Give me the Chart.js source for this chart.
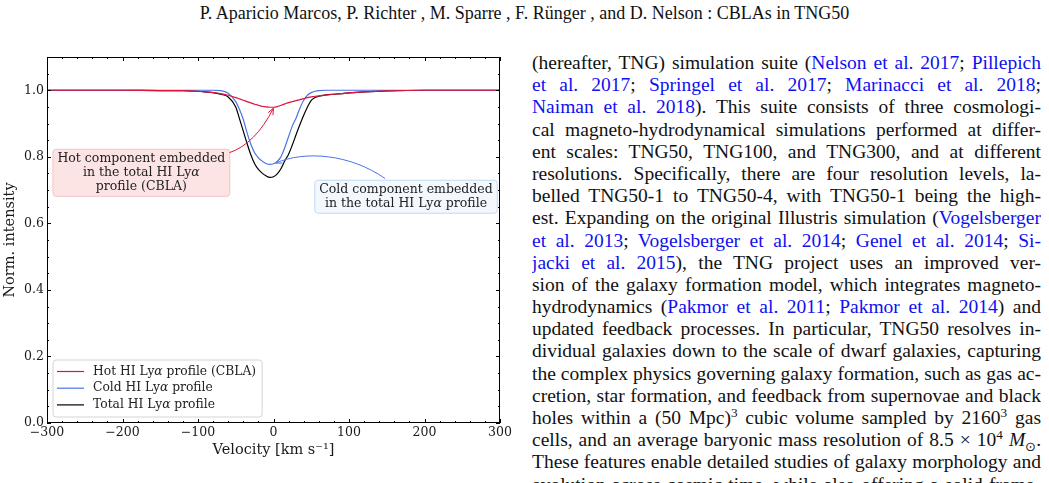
<!DOCTYPE html>
<html>
<head>
<meta charset="utf-8">
<script src="https://cdn.jsdelivr.net/npm/chart.js@4.4.0/dist/chart.umd.min.js"></script>
<style>
body{margin:0;width:1049px;height:483px;overflow:hidden;background:#fff;position:relative;font-family:"Liberation Serif","Times New Roman",serif;color:#111}
#hdr{position:absolute;left:0;top:3px;width:1049px;text-align:center;font-size:18px;line-height:20px}
#plot{position:absolute;left:0;top:40px;width:515px;height:426px}
#txt{position:absolute;left:532px;top:52px;width:509px;font-size:19.5px;word-spacing:-1.5px}
#txt div{height:22.2px;line-height:22.2px;overflow:hidden;text-align:justify;text-align-last:justify}
.c{color:#1010f0}
sup,sub{font-size:0.68em;line-height:0}
</style>
</head>
<body>
<div id="hdr">P. Aparicio Marcos, P. Richter , M. Sparre , F. Rünger , and D. Nelson : CBLAs in TNG50</div>
<div id="plot"><canvas id="profileChart"></canvas></div>
<div id="txt">
<div>(hereafter, TNG) simulation suite (<span class="c">Nelson et al. 2017</span>; <span class="c">Pillepich</span></div>
<div><span class="c">et al. 2017</span>; <span class="c">Springel et al. 2017</span>; <span class="c">Marinacci et al. 2018</span>;</div>
<div><span class="c">Naiman et al. 2018</span>). This suite consists of three cosmologi-</div>
<div>cal magneto-hydrodynamical simulations performed at differ-</div>
<div>ent scales: TNG50, TNG100, and TNG300, and at different</div>
<div>resolutions. Specifically, there are four resolution levels, la-</div>
<div>belled TNG50-1 to TNG50-4, with TNG50-1 being the high-</div>
<div>est. Expanding on the original Illustris simulation (<span class="c">Vogelsberger</span></div>
<div><span class="c">et al. 2013</span>; <span class="c">Vogelsberger et al. 2014</span>; <span class="c">Genel et al. 2014</span>; <span class="c">Si-</span></div>
<div><span class="c">jacki et al. 2015</span>), the TNG project uses an improved ver-</div>
<div>sion of the galaxy formation model, which integrates magneto-</div>
<div>hydrodynamics (<span class="c">Pakmor et al. 2011</span>; <span class="c">Pakmor et al. 2014</span>) and</div>
<div>updated feedback processes. In particular, TNG50 resolves in-</div>
<div>dividual galaxies down to the scale of dwarf galaxies, capturing</div>
<div>the complex physics governing galaxy formation, such as gas ac-</div>
<div>cretion, star formation, and feedback from supernovae and black</div>
<div>holes within a (50 Mpc)<sup>3</sup> cubic volume sampled by 2160<sup>3</sup> gas</div>
<div>cells, and an average baryonic mass resolution of 8.5 × 10<sup>4</sup> <i>M</i><sub>⊙</sub>.</div>
<div>These features enable detailed studies of galaxy morphology and</div>
<div>evolution across cosmic time, while also offering a solid frame-</div>
</div>
<script>
// velocidades (km/s) y perfiles
const velocity = [-300, -200, -150, -120, -100, -90, -80, -70, -60, -50, -45, -40, -35, -30, -25, -20, -15, -10, -5, 0,
                  5, 10, 15, 20, 25, 30, 35, 40, 45, 50, 55, 60, 70, 80, 90, 100, 120, 150, 200, 300];
const hotProfile = [1.000, 1.000, 0.999, 0.999, 0.997, 0.995, 0.993, 0.990, 0.985, 0.978, 0.974, 0.970, 0.966, 0.962, 0.958, 0.955, 0.952, 0.950, 0.949, 0.949,
                    0.951, 0.955, 0.959, 0.963, 0.966, 0.969, 0.972, 0.975, 0.978, 0.980, 0.982, 0.983, 0.986, 0.988, 0.990, 0.992, 0.995, 0.998, 1.000, 1.000];
const coldProfile = [1.000, 1.000, 1.000, 1.000, 1.000, 1.000, 1.000, 0.999, 0.991, 0.966, 0.942, 0.912, 0.872, 0.838, 0.812, 0.797, 0.787, 0.780, 0.777, 0.779,
                     0.786, 0.801, 0.828, 0.861, 0.893, 0.917, 0.946, 0.970, 0.985, 0.993, 0.997, 0.999, 1.000, 1.000, 1.000, 1.000, 1.000, 1.000, 1.000, 1.000];
const totalProfile = [1.000, 1.000, 0.999, 0.999, 0.997, 0.995, 0.993, 0.988, 0.980, 0.950, 0.914, 0.877, 0.840, 0.806, 0.779, 0.762, 0.751, 0.743, 0.738, 0.740,
                      0.749, 0.765, 0.788, 0.808, 0.836, 0.867, 0.897, 0.925, 0.950, 0.970, 0.978, 0.982, 0.986, 0.988, 0.990, 0.992, 0.995, 0.998, 1.000, 1.000];

const xTicks = [-300, -200, -100, 0, 100, 200, 300];
const yTicks = [0.0, 0.2, 0.4, 0.6, 0.8, 1.0];

const seriesLabels = [
    [['Hot HI Ly', false], ['α', true], [' profile (CBLA)', false]],
    [['Cold HI Ly', false], ['α', true], [' profile', false]],
    [['Total HI Ly', false], ['α', true], [' profile', false]]
];
const seriesColors = ['#dc143c', '#4a74e8', '#000000'];

// anotaciones (coordenadas de datos)
const hotNote = { lines: [[['Hot component embedded', false]], [['in the total HI Ly', false], ['α', true]], [['profile (CBLA)', false]]],
                  center: [-175, 0.752], fill: '#fce4e5', edge: '#f3c4c8' };
const coldNote = { lines: [[['Cold component embedded', false]], [['in the total HI Ly', false], ['α', true], [' profile', false]]],
                   center: [175.5, 0.680], fill: '#f2f8fe', edge: '#c4daf4' };
const hotArrow = [[-58.4, 0.8125], [-24, 0.839], [-0.1, 0.946]];
const coldArrow = [[147.7, 0.735], [101.4, 0.808], [41.8, 0.820], [2.8, 0.781]];

const FONT = '"DejaVu Serif", serif';

function richWidth(ctx, segs, size) {
    let w = 0;
    segs.forEach(s => {
        ctx.font = (s[1] ? 'italic ' : '') + size + 'px ' + FONT;
        w += ctx.measureText(s[0]).width;
    });
    return w;
}
function drawRich(ctx, segs, x, y, size, align) {
    let w = richWidth(ctx, segs, size);
    let cx = align === 'center' ? x - w / 2 : x;
    ctx.textBaseline = 'middle';
    ctx.textAlign = 'left';
    segs.forEach(s => {
        ctx.font = (s[1] ? 'italic ' : '') + size + 'px ' + FONT;
        ctx.fillText(s[0], cx, y);
        cx += ctx.measureText(s[0]).width;
    });
}
function roundBox(ctx, x, y, w, h, r, fill, edge) {
    ctx.beginPath();
    ctx.roundRect(x, y, w, h, r);
    ctx.fillStyle = fill;
    ctx.fill();
    ctx.strokeStyle = edge;
    ctx.lineWidth = 1;
    ctx.stroke();
}
function arrowHead(ctx, from, to, color) {
    const ang = Math.atan2(to[1] - from[1], to[0] - from[0]);
    const L = 7, spread = 0.4;
    ctx.beginPath();
    ctx.moveTo(to[0] - L * Math.cos(ang - spread), to[1] - L * Math.sin(ang - spread));
    ctx.lineTo(to[0], to[1]);
    ctx.lineTo(to[0] - L * Math.cos(ang + spread), to[1] - L * Math.sin(ang + spread));
    ctx.strokeStyle = color;
    ctx.stroke();
}

const framePlugin = {
    id: 'framePlugin',
    afterDraw(chart) {
        const ctx = chart.ctx;
        const a = chart.chartArea;
        const xs = chart.scales.x, ys = chart.scales.y;
        const px = p => [xs.getPixelForValue(p[0]), ys.getPixelForValue(p[1])];
        ctx.save();

        // marco y marcas hacia dentro
        ctx.strokeStyle = '#000';
        ctx.lineWidth = 1;
        ctx.strokeRect(a.left + 0.5, a.top + 0.5, a.right - a.left - 1, a.bottom - a.top - 1);
        ctx.beginPath();
        for (let v = -300; v <= 300; v += 20) {
            const X = Math.round(xs.getPixelForValue(v)) + 0.5;
            const len = xTicks.includes(v) ? 4 : 2;
            ctx.moveTo(X, a.bottom); ctx.lineTo(X, a.bottom - len);
            ctx.moveTo(X, a.top); ctx.lineTo(X, a.top + len);
        }
        for (let i = 0; i <= 22; i++) {
            const v = i * 0.05;
            const Y = Math.round(ys.getPixelForValue(v)) + 0.5;
            const len = (i % 4 === 0) ? 4 : 2;
            ctx.moveTo(a.left, Y); ctx.lineTo(a.left + len, Y);
            ctx.moveTo(a.right, Y); ctx.lineTo(a.right - len, Y);
        }
        ctx.stroke();

        // leyenda
        const fs = 12.3;
        const lx = a.left + 6, lh = 57, ly = a.bottom - 6 - lh;
        let tw = 0;
        seriesLabels.forEach(s => { tw = Math.max(tw, richWidth(ctx, s, fs)); });
        roundBox(ctx, lx, ly, 40 + tw + 6, lh, 3, 'rgba(255,255,255,0.85)', '#d4d4d4');
        seriesLabels.forEach((s, i) => {
            const yy = ly + 11.5 + i * 16.7;
            ctx.beginPath();
            ctx.moveTo(lx + 4, yy); ctx.lineTo(lx + 31, yy);
            ctx.strokeStyle = seriesColors[i];
            ctx.lineWidth = 1.2;
            ctx.stroke();
            ctx.fillStyle = '#222';
            drawRich(ctx, s, lx + 40, yy, fs, 'left');
        });

        // cajas de anotación
        [hotNote, coldNote].forEach(n => {
            const size = 12.5, lineH = 14;
            let w = 0;
            n.lines.forEach(l => { w = Math.max(w, richWidth(ctx, l, size)); });
            const c = px(n.center);
            const h = n.lines.length * lineH + 5, bw = w + 9;
            roundBox(ctx, c[0] - bw / 2, c[1] - h / 2, bw, h, 3, n.fill, n.edge);
            ctx.fillStyle = '#222';
            n.lines.forEach((l, i) => {
                drawRich(ctx, l, c[0], c[1] - (n.lines.length - 1) * lineH / 2 + i * lineH, size, 'center');
            });
        });

        // flechas
        ctx.lineWidth = 1;
        let p = hotArrow.map(px);
        ctx.beginPath();
        ctx.moveTo(p[0][0], p[0][1]);
        ctx.quadraticCurveTo(p[1][0], p[1][1], p[2][0], p[2][1]);
        ctx.strokeStyle = seriesColors[0];
        ctx.stroke();
        arrowHead(ctx, p[1], p[2], seriesColors[0]);

        p = coldArrow.map(px);
        ctx.beginPath();
        ctx.moveTo(p[0][0], p[0][1]);
        ctx.bezierCurveTo(p[1][0], p[1][1], p[2][0], p[2][1], p[3][0], p[3][1]);
        ctx.strokeStyle = seriesColors[1];
        ctx.stroke();
        arrowHead(ctx, p[2], p[3], seriesColors[1]);

        ctx.restore();
    }
};

function makeSet(values, i) {
    return {
        data: velocity.map((v, k) => ({ x: v, y: values[k] })),
        borderColor: seriesColors[i],
        borderWidth: 1.2,
        pointRadius: 0,
        showLine: true,
        fill: false,
        cubicInterpolationMode: 'monotone'
    };
}

Chart.defaults.font.family = FONT;
Chart.defaults.color = '#1a1a1a';

new Chart(document.getElementById('profileChart'), {
    type: 'scatter',
    data: {
        datasets: [makeSet(hotProfile, 0), makeSet(coldProfile, 1), makeSet(totalProfile, 2)]
    },
    options: {
        responsive: true,
        maintainAspectRatio: false,
        animation: false,
        layout: { padding: { top: 17, right: 15, bottom: 0, left: 0 } },
        plugins: { legend: { display: false }, tooltip: { enabled: false } },
        scales: {
            x: {
                type: 'linear', min: -300, max: 300,
                grid: { display: false, drawTicks: false },
                border: { display: false },
                afterBuildTicks: s => { s.ticks = xTicks.map(v => ({ value: v })); },
                ticks: { font: { size: 12.5 }, padding: 2, maxRotation: 0,
                         callback: v => (v < 0 ? '\u2212' + Math.abs(v) : '' + v) },
                title: { display: true, text: 'Velocity [km s\u207B\u00B9]', font: { size: 14.5 }, padding: { top: 0, bottom: 7 } },
                afterFit: s => { s.height = 43; }
            },
            y: {
                type: 'linear', min: 0, max: 1.1,
                grid: { display: false, drawTicks: false },
                border: { display: false },
                afterBuildTicks: s => { s.ticks = yTicks.map(v => ({ value: v })); },
                ticks: { font: { size: 12.5 }, padding: 3, callback: v => v.toFixed(1) },
                title: { display: true, text: 'Norm. intensity', font: { size: 14.5 }, padding: { top: 2, bottom: 0 } },
                afterFit: s => { s.width = 47; }
            }
        }
    },
    plugins: [framePlugin]
});
</script>
</body>
</html>
